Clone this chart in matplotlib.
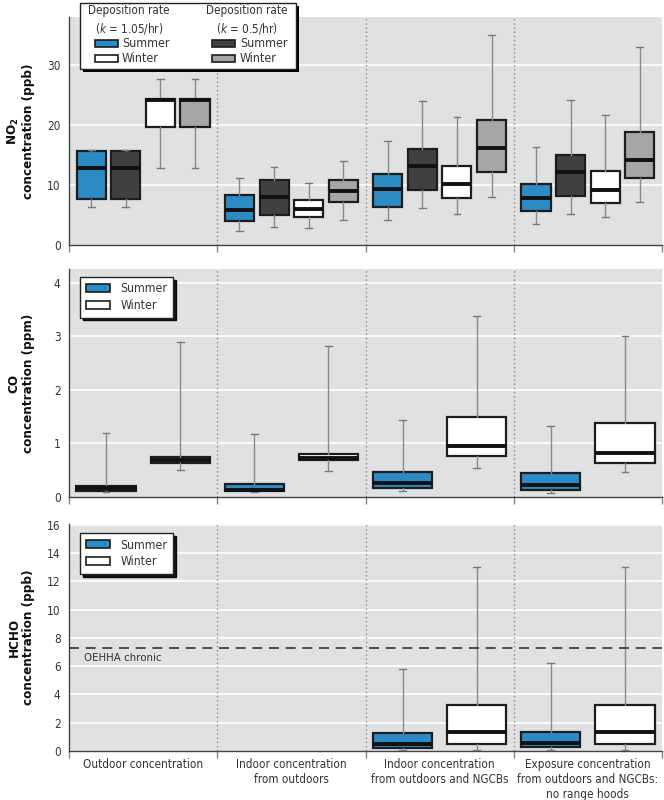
import matplotlib
matplotlib.use("Agg")
import matplotlib.pyplot as plt
import matplotlib.font_manager as fm
from matplotlib.patches import Patch, Rectangle

# narrow sans font, whichever is installed
fonts = {(f.name, f.stretch) for f in fm.fontManager.ttflist}
names = {n for n, _ in fonts}
STRETCH = "normal"
if "Liberation Sans Narrow" in names:
    FONT = "Liberation Sans Narrow"
elif ("DejaVu Sans", "condensed") in fonts:
    FONT, STRETCH = "DejaVu Sans", "condensed"
else:
    FONT = "Liberation Sans"
plt.rcParams.update({
    "font.family": FONT,
    "font.stretch": STRETCH,
    "mathtext.fontset": "dejavusans",
})

# ---- data ----
groups = ["Outdoor concentration",
          "Indoor concentration\nfrom outdoors",
          "Indoor concentration\nfrom outdoors and NGCBs",
          "Exposure concentration\nfrom outdoors and NGCBs:\nno range hoods"]

# NO2 (ppb), one value per group; order: whislo, q1, med, q3, whishi
no2_sum_k105 = [[6.3, 2.3, 4.2, 3.5], [7.7, 4.0, 6.4, 5.7], [12.9, 5.8, 9.3, 7.8],
                [15.7, 8.4, 11.9, 10.1], [15.8, 11.2, 17.4, 16.3]]
no2_sum_k05 = [[6.3, 3.05, 6.1, 5.1], [7.7, 5.05, 9.2, 8.1], [12.9, 8.05, 13.1, 12.1],
               [15.7, 10.9, 15.95, 14.95], [15.8, 13.05, 24.05, 24.1]]
no2_win_k105 = [[12.9, 2.8, 5.1, 4.6], [19.6, 4.6, 7.8, 6.95], [24.2, 6.0, 10.2, 9.2],
                [24.3, 7.5, 13.2, 12.4], [27.7, 10.4, 21.3, 21.7]]
no2_win_k05 = [[12.9, 4.2, 8.05, 7.1], [19.6, 7.2, 12.2, 11.2], [24.2, 9.0, 16.1, 14.1],
               [24.3, 10.9, 20.9, 18.9], [27.7, 14.0, 35.05, 33.0]]

# CO (ppm)
co_sum = [[0.10, 0.09, 0.11, 0.075], [0.11, 0.11, 0.17, 0.14], [0.16, 0.14, 0.27, 0.22],
          [0.21, 0.24, 0.46, 0.45], [1.19, 1.18, 1.43, 1.33]]
co_win = [[0.51, 0.49, 0.54, 0.46], [0.63, 0.70, 0.77, 0.64], [0.69, 0.72, 0.95, 0.82],
          [0.75, 0.81, 1.49, 1.38], [2.89, 2.83, 3.39, 3.00]]

# HCHO (ppb), only groups 3 and 4
hcho_groups = [2, 3]
hcho_sum = [[0.10, 0.10], [0.24, 0.28], [0.52, 0.59], [1.30, 1.37], [5.8, 6.2]]
hcho_win = [[0.10, 0.10], [0.52, 0.52], [1.32, 1.32], [3.22, 3.22], [13.0, 13.0]]
oehha_chronic = 7.3

BLUE = "#2c8bc4"
DARK = "#3e4042"
LGRAY = "#a4a6a8"
WHITE = "#ffffff"
BG = "#e0e1e3"
EDGE = "#1d1d1d"
TXT = "#333333"


def stats(series, idx):
    return [dict(whislo=series[0][i], q1=series[1][i], med=series[2][i],
                 q3=series[3][i], whishi=series[4][i], fliers=[]) for i in range(len(idx))]


def draw(ax, series, idx, offset, width, color):
    pos = [g + 0.5 + offset for g in idx]
    ax.bxp(stats(series, idx), positions=pos, widths=width, capwidths=0.045,
           patch_artist=True, showfliers=False,
           boxprops=dict(facecolor=color, edgecolor=EDGE, linewidth=1.6),
           medianprops=dict(color="#111111", linewidth=2.8),
           whiskerprops=dict(color="#8a8a8a", linewidth=1.0),
           capprops=dict(color="#7a7a7a", linewidth=1.0),
           manage_ticks=False, zorder=3)


def style(ax, ymax, yticks, ylabel):
    ax.set_facecolor(BG)
    ax.set_xlim(0, 4)
    ax.set_ylim(0, ymax)
    ax.set_yticks(yticks)
    ax.tick_params(axis="y", length=0, labelsize=8.5, labelcolor=TXT, pad=6)
    ax.set_xticks([0, 1, 2, 3, 4])
    ax.set_xticklabels([])
    ax.tick_params(axis="x", length=5, color="#888888", width=1)
    for y in yticks[1:]:
        ax.axhline(y, color="white", lw=1.2, zorder=1)
    for x in [1, 2, 3]:
        ax.axvline(x, color="#8a8a8a", lw=1.0, ls=(0, (1, 2)), zorder=2)
    for s in ["top", "right"]:
        ax.spines[s].set_visible(False)
    for s in ["left", "bottom"]:
        ax.spines[s].set_color("#444444")
        ax.spines[s].set_linewidth(1.0)
    ax.set_ylabel(ylabel, fontsize=9.6, fontweight="bold", color="#111111",
                  linespacing=1.1)
    ax.yaxis.set_label_coords(-0.058, 0.5)


def small_legend(ax, y_anchor):
    h = [Patch(facecolor=BLUE, edgecolor=EDGE, lw=1.2),
         Patch(facecolor=WHITE, edgecolor=EDGE, lw=1.2)]
    leg = ax.legend(h, ["Summer", "Winter"], loc="upper left",
                    bbox_to_anchor=(0.0186, y_anchor), borderaxespad=0,
                    fontsize=8.8, frameon=True, fancybox=False,
                    edgecolor="#222222", framealpha=1, handlelength=2.0,
                    handleheight=0.6, handletextpad=0.85, labelspacing=0.3,
                    borderpad=0.45, shadow={"color": "black", "alpha": 0.9})
    leg.get_frame().set_linewidth(1.0)
    leg.set_zorder(10)
    for t in leg.get_texts():
        t.set_color(TXT)


fig = plt.figure(figsize=(6.64, 8.0), dpi=100)
W, H = 664.0, 800.0


def add_axes(top_px, bottom_px):
    return fig.add_axes([69 / W, 1 - bottom_px / H, 593 / W, (bottom_px - top_px) / H])


ax1 = add_axes(17, 245)
ax2 = add_axes(269, 497)
ax3 = add_axes(524, 751)

# --- NO2 panel ---
all4 = [0, 1, 2, 3]
offs4 = [-0.35, -0.117, 0.117, 0.35]
for s, off, col in zip([no2_sum_k105, no2_sum_k05, no2_win_k105, no2_win_k05], offs4,
                       [BLUE, DARK, WHITE, LGRAY]):
    draw(ax1, s, all4, off, 0.196, col)
style(ax1, 38, [0, 10, 20, 30], "NO$_\\mathbf{2}$\nconcentration (ppb)")

# --- CO panel ---
draw(ax2, co_sum, all4, -0.25, 0.40, BLUE)
draw(ax2, co_win, all4, 0.25, 0.40, WHITE)
style(ax2, 4.26, [0, 1, 2, 3, 4], "CO\nconcentration (ppm)")
small_legend(ax2, 0.965)

# --- HCHO panel ---
draw(ax3, hcho_sum, hcho_groups, -0.25, 0.40, BLUE)
draw(ax3, hcho_win, hcho_groups, 0.25, 0.40, WHITE)
style(ax3, 16.05, list(range(0, 17, 2)), "HCHO\nconcentration (ppb)")
ax3.axhline(oehha_chronic, color="#333333", lw=1.2, ls=(0, (6, 4)), zorder=4)
ax3.text(0.1, oehha_chronic - 0.4, "OEHHA chronic", fontsize=8.2, color=TXT,
         va="top", ha="left", zorder=5)
small_legend(ax3, 0.96)
ax3.set_xticks([0.5, 1.5, 2.5, 3.5], minor=True)
ax3.set_xticklabels(groups, minor=True, fontsize=8.4, color=TXT, linespacing=1.2)
ax3.tick_params(axis="x", which="minor", length=0, pad=5)

# --- top legend (two columns with headers), placed in pixel coordinates ---
def fx(x):
    return x / W


def fy(y):
    return 1 - y / H


lx0, ly0, lx1, ly1 = 80, 3, 296, 69
fig.patches.append(Rectangle((fx(lx0 + 3), fy(ly1 + 3)), fx(lx1 - lx0), (ly1 - ly0) / H,
                             transform=fig.transFigure, facecolor="black", zorder=20))
fig.patches.append(Rectangle((fx(lx0), fy(ly1)), fx(lx1 - lx0), (ly1 - ly0) / H,
                             transform=fig.transFigure, facecolor="white",
                             edgecolor="#222222", lw=1.0, zorder=21))
heads = [(129, "Deposition rate\n($\\mathit{k}$ = 1.05/hr)", 95, 122, BLUE, WHITE),
         (247, "Deposition rate\n($\\mathit{k}$ = 0.5/hr)", 212, 240, DARK, LGRAY)]
for cx, head, px, tx, c_s, c_w in heads:
    fig.text(fx(cx), fy(20), head, ha="center", va="center", fontsize=8.4,
             color=TXT, linespacing=1.35, zorder=22)
    for yy, col, lab in [(43.5, c_s, "Summer"), (58.5, c_w, "Winter")]:
        fig.patches.append(Rectangle((fx(px), fy(yy + 3.5)), 23 / W, 7 / H,
                                     transform=fig.transFigure, facecolor=col,
                                     edgecolor=EDGE, lw=1.2, zorder=22))
        fig.text(fx(tx), fy(yy), lab, ha="left", va="center", fontsize=8.9,
                 color=TXT, zorder=22)

fig.savefig("out.png", dpi=100)
